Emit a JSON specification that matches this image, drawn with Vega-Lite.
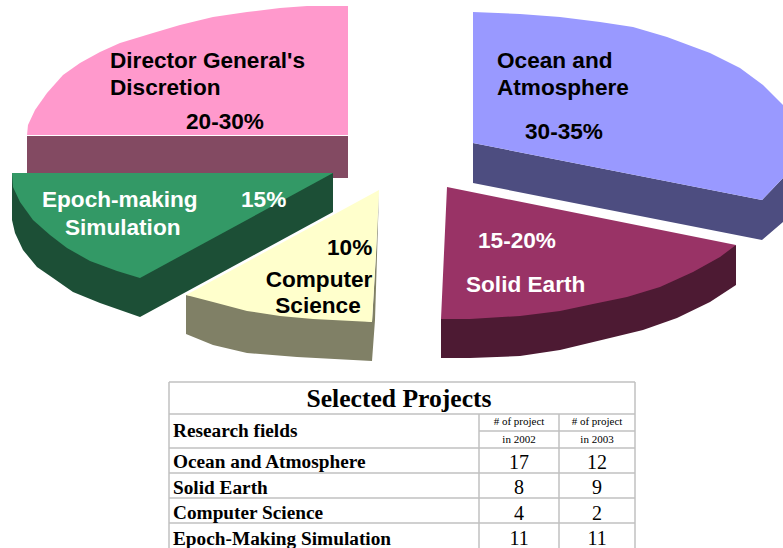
{"$schema":"https://vega.github.io/schema/vega-lite/v6.json","width":783,"height":548,"padding":0,"autosize":{"type":"none"},"background":"white","config":{"view":{"stroke":null}},
"datasets":{
"poly":[
{"s":"a_pink_side","x":27,"y":136},{"s":"a_pink_side","x":348,"y":136},{"s":"a_pink_side","x":348,"y":178},{"s":"a_pink_side","x":27,"y":178},
{"s":"b_pink_top","x":348,"y":6},{"s":"b_pink_top","x":307,"y":6},{"s":"b_pink_top","x":280,"y":8},{"s":"b_pink_top","x":247,"y":12},{"s":"b_pink_top","x":213,"y":17},{"s":"b_pink_top","x":180,"y":25},{"s":"b_pink_top","x":153,"y":33},{"s":"b_pink_top","x":120,"y":43},{"s":"b_pink_top","x":100,"y":52},{"s":"b_pink_top","x":80,"y":63},{"s":"b_pink_top","x":63,"y":75},{"s":"b_pink_top","x":47,"y":93},{"s":"b_pink_top","x":35,"y":110},{"s":"b_pink_top","x":28,"y":125},{"s":"b_pink_top","x":27,"y":135},{"s":"b_pink_top","x":348,"y":135},
{"s":"c_green_side","x":12,"y":173},{"s":"c_green_side","x":12,"y":220},{"s":"c_green_side","x":15,"y":233},{"s":"c_green_side","x":23,"y":250},{"s":"c_green_side","x":37,"y":267},{"s":"c_green_side","x":53,"y":278},{"s":"c_green_side","x":73,"y":292},{"s":"c_green_side","x":100,"y":303},{"s":"c_green_side","x":140,"y":317},{"s":"c_green_side","x":333,"y":212},{"s":"c_green_side","x":333,"y":173},
{"s":"d_green_top","x":12,"y":173},{"s":"d_green_top","x":333,"y":173},{"s":"d_green_top","x":140,"y":278},{"s":"d_green_top","x":117,"y":271},{"s":"d_green_top","x":90,"y":261},{"s":"d_green_top","x":67,"y":248},{"s":"d_green_top","x":50,"y":235},{"s":"d_green_top","x":33,"y":220},{"s":"d_green_top","x":20,"y":202},{"s":"d_green_top","x":13,"y":187},
{"s":"e_yellow_side","x":186,"y":295},{"s":"e_yellow_side","x":186,"y":334},{"s":"e_yellow_side","x":213,"y":345},{"s":"e_yellow_side","x":247,"y":353},{"s":"e_yellow_side","x":297,"y":357},{"s":"e_yellow_side","x":372,"y":361},{"s":"e_yellow_side","x":375,"y":320},{"s":"e_yellow_side","x":379,"y":191},{"s":"e_yellow_side","x":376,"y":255},{"s":"e_yellow_side","x":372,"y":322},
{"s":"f_yellow_top","x":379,"y":190},{"s":"f_yellow_top","x":186,"y":295},{"s":"f_yellow_top","x":213,"y":302},{"s":"f_yellow_top","x":247,"y":311},{"s":"f_yellow_top","x":280,"y":316},{"s":"f_yellow_top","x":313,"y":319},{"s":"f_yellow_top","x":372,"y":322},{"s":"f_yellow_top","x":376,"y":252},
{"s":"g_blue_side","x":473,"y":143},{"s":"g_blue_side","x":473,"y":183},{"s":"g_blue_side","x":762,"y":240},{"s":"g_blue_side","x":783,"y":222},{"s":"g_blue_side","x":783,"y":178},{"s":"g_blue_side","x":762,"y":200},
{"s":"h_blue_top","x":473,"y":12},{"s":"h_blue_top","x":520,"y":14},{"s":"h_blue_top","x":560,"y":17},{"s":"h_blue_top","x":600,"y":22},{"s":"h_blue_top","x":633,"y":27},{"s":"h_blue_top","x":667,"y":37},{"s":"h_blue_top","x":710,"y":53},{"s":"h_blue_top","x":740,"y":68},{"s":"h_blue_top","x":763,"y":85},{"s":"h_blue_top","x":783,"y":105},{"s":"h_blue_top","x":783,"y":178},{"s":"h_blue_top","x":762,"y":200},{"s":"h_blue_top","x":473,"y":143},
{"s":"i_earth_side","x":441,"y":319},{"s":"i_earth_side","x":441,"y":358},{"s":"i_earth_side","x":470,"y":358},{"s":"i_earth_side","x":520,"y":356},{"s":"i_earth_side","x":560,"y":350},{"s":"i_earth_side","x":610,"y":338},{"s":"i_earth_side","x":643,"y":330},{"s":"i_earth_side","x":677,"y":318},{"s":"i_earth_side","x":710,"y":302},{"s":"i_earth_side","x":736,"y":285},{"s":"i_earth_side","x":736,"y":245},
{"s":"j_earth_top","x":447,"y":187},{"s":"j_earth_top","x":736,"y":245},{"s":"j_earth_top","x":720,"y":257},{"s":"j_earth_top","x":693,"y":272},{"s":"j_earth_top","x":660,"y":287},{"s":"j_earth_top","x":627,"y":297},{"s":"j_earth_top","x":593,"y":304},{"s":"j_earth_top","x":560,"y":311},{"s":"j_earth_top","x":520,"y":316},{"s":"j_earth_top","x":470,"y":319},{"s":"j_earth_top","x":441,"y":319}
],
"black":[{"t":"Director General's","x":110,"y":68},{"t":"Discretion","x":110,"y":95},{"t":"20-30%","x":186,"y":129},{"t":"Ocean and","x":497,"y":68},{"t":"Atmosphere","x":497,"y":95},{"t":"30-35%","x":525,"y":139},{"t":"10%","x":327,"y":255}],
"blackc":[{"t":"Computer","x":319,"y":287},{"t":"Science","x":318,"y":313}],
"white":[{"t":"Epoch-making","x":42,"y":207},{"t":"15%","x":241,"y":207},{"t":"Simulation","x":65,"y":235},{"t":"15-20%","x":478,"y":248},{"t":"Solid Earth","x":466,"y":292}],
"grid":[{"x":169,"x2":635,"y":382,"y2":382},{"x":169,"x2":635,"y":414,"y2":414},{"x":479,"x2":635,"y":431,"y2":431},{"x":169,"x2":635,"y":448,"y2":448},{"x":169,"x2":635,"y":473,"y2":473},{"x":169,"x2":635,"y":498,"y2":498},{"x":169,"x2":635,"y":523,"y2":523},{"x":169,"x2":169,"y":382,"y2":548},{"x":635,"x2":635,"y":382,"y2":548},{"x":479,"x2":479,"y":414,"y2":548},{"x":559,"x2":559,"y":414,"y2":548}],
"rows":[{"t":"Research fields","x":173,"y":437},{"t":"Ocean and Atmosphere","x":173,"y":468},{"t":"Solid Earth","x":173,"y":494},{"t":"Computer Science","x":173,"y":519},{"t":"Epoch-Making Simulation","x":173,"y":545}],
"small":[{"t":"# of project","x":519,"y":425},{"t":"# of project","x":597,"y":425},{"t":"in 2002","x":519,"y":443},{"t":"in 2003","x":597,"y":443}],
"nums":[{"t":"17","x":519,"y":469},{"t":"12","x":597,"y":469},{"t":"8","x":519,"y":494},{"t":"9","x":597,"y":494},{"t":"4","x":519,"y":520},{"t":"2","x":597,"y":520},{"t":"11","x":519,"y":545},{"t":"11","x":597,"y":545}]
},
"encoding":{"x":{"field":"x","type":"quantitative","scale":{"domain":[0,783],"nice":false,"zero":false},"axis":null},"y":{"field":"y","type":"quantitative","scale":{"domain":[548,0],"nice":false,"zero":false},"axis":null}},
"layer":[
{"data":{"name":"poly"},"mark":{"type":"line","interpolate":"linear-closed","strokeWidth":0},"encoding":{"detail":{"field":"s"},"order":{"field":"i"},"fill":{"field":"s","type":"nominal","legend":null,"scale":{"domain":["a_pink_side","b_pink_top","c_green_side","d_green_top","e_yellow_side","f_yellow_top","g_blue_side","h_blue_top","i_earth_side","j_earth_top"],"range":["#834a62","#ff99cc","#1c4f36","#339966","#808066","#ffffcc","#4d4d80","#9999ff","#4d1a33","#993366"]}}},"transform":[{"window":[{"op":"row_number","as":"i"}]}]},
{"data":{"name":"black"},"mark":{"type":"text","align":"left","baseline":"alphabetic","font":"Liberation Sans","fontWeight":"bold","fontSize":22.6,"color":"black"},"encoding":{"text":{"field":"t"}}},
{"data":{"name":"blackc"},"mark":{"type":"text","align":"center","baseline":"alphabetic","font":"Liberation Sans","fontWeight":"bold","fontSize":22.6,"color":"black"},"encoding":{"text":{"field":"t"}}},
{"data":{"name":"white"},"mark":{"type":"text","align":"left","baseline":"alphabetic","font":"Liberation Sans","fontWeight":"bold","fontSize":22.6,"color":"white"},"encoding":{"text":{"field":"t"}}},
{"data":{"name":"grid"},"mark":{"type":"rule","color":"#c0c0c0","strokeWidth":1.5},"encoding":{"x2":{"field":"x2"},"y2":{"field":"y2"}}},
{"data":{"values":[{"t":"Selected Projects","x":399,"y":407}]},"mark":{"type":"text","align":"center","baseline":"alphabetic","font":"Liberation Serif","fontWeight":"bold","fontSize":25.6,"color":"black"},"encoding":{"text":{"field":"t"}}},
{"data":{"name":"rows"},"mark":{"type":"text","align":"left","baseline":"alphabetic","font":"Liberation Serif","fontWeight":"bold","fontSize":19.3,"color":"black"},"encoding":{"text":{"field":"t"}}},
{"data":{"name":"small"},"mark":{"type":"text","align":"center","baseline":"alphabetic","font":"Liberation Serif","fontSize":11,"color":"black"},"encoding":{"text":{"field":"t"}}},
{"data":{"name":"nums"},"mark":{"type":"text","align":"center","baseline":"alphabetic","font":"Liberation Serif","fontSize":20,"color":"black"},"encoding":{"text":{"field":"t"}}}
]}
